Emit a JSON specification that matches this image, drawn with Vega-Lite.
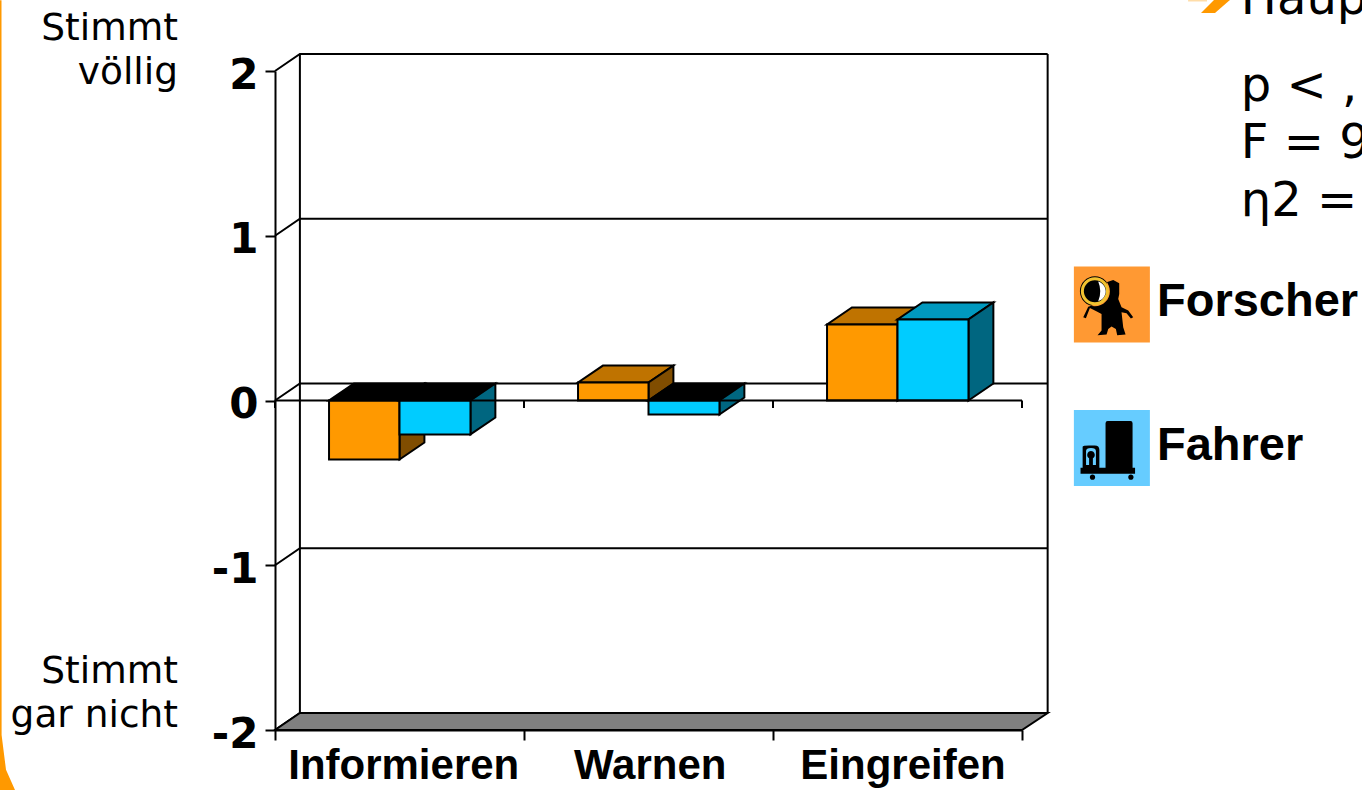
{
  "$schema": "https://vega.github.io/schema/vega-lite/v6.json",
  "width": 747,
  "height": 659,
  "autosize": "none",
  "padding": {"left": 275, "top": 71, "right": 340, "bottom": 60},
  "background": "white",
  "config": {"view": {"stroke": null}},
  "data": {"values": [{}]},
  "datasets": {
    "bars": [
      {"category": "Informieren", "group": "Forscher", "value": -0.358},
      {"category": "Informieren", "group": "Fahrer", "value": -0.206},
      {"category": "Warnen", "group": "Forscher", "value": 0.109},
      {"category": "Warnen", "group": "Fahrer", "value": -0.085},
      {"category": "Eingreifen", "group": "Forscher", "value": 0.462},
      {"category": "Eingreifen", "group": "Fahrer", "value": 0.492}
    ],
    "levels": [{"level": -2}, {"level": -1}, {"level": 0}, {"level": 1}, {"level": 2}],
    "floor": [
      {"px": 0, "lo": -2, "hi": -2},
      {"px": 0.1, "lo": -2, "hi": -1.897},
      {"px": 3, "lo": -2, "hi": -1.897},
      {"px": 3.103, "lo": -1.897, "hi": -1.897}
    ],
    "ticks": [{"tick": 0}, {"tick": 1}, {"tick": 2}, {"tick": 3}],
    "bullet": [
      {"px": 3.719, "lo": 2.352, "hi": 2.352},
      {"px": 3.771, "lo": 2.352, "hi": 2.431},
      {"px": 3.775, "lo": 2.352, "hi": 2.431},
      {"px": 3.835, "lo": 2.431, "hi": 2.431}
    ],
    "frameEdge": [
      {"px": -1.1044, "lo": -2.364, "hi": 2.43},
      {"px": -1.0984, "lo": -2.364, "hi": 2.43},
      {"px": -1.098, "lo": -2.364, "hi": -2.03},
      {"px": -1.0803, "lo": -2.364, "hi": -2.242},
      {"px": -1.0442, "lo": -2.364, "hi": -2.364}
    ]
  },
  "layer": [
    {
      "data": {"name": "levels"},
      "transform": [
        {"calculate": "[0, 1, 2]", "as": "corner"},
        {"flatten": ["corner"]},
        {"calculate": "datum.corner == 0 ? 0 : datum.corner == 1 ? 0.1 : 3.103", "as": "px"},
        {"calculate": "datum.corner == 0 ? datum.level : datum.level + 0.103", "as": "py"}
      ],
      "mark": {"type": "line", "color": "black", "strokeWidth": 2},
      "encoding": {
        "x": {
          "field": "px",
          "type": "quantitative",
          "scale": {"domain": [0, 3], "nice": false, "zero": false},
          "axis": {
            "title": null,
            "values": [0, 0.515, 1, 1.505, 2, 2.52, 3],
            "labelExpr": "datum.value == 0.515 ? 'Informieren' : datum.value == 1.505 ? 'Warnen' : datum.value == 2.52 ? 'Eingreifen' : ''",
            "tickOpacity": {"condition": {"test": "datum.value % 1 === 0", "value": 1}, "value": 0},
            "tickSize": 10,
            "tickWidth": 2,
            "tickColor": "black",
            "domainColor": "black",
            "domainWidth": 2,
            "grid": false,
            "labelFont": "Liberation Sans",
            "labelFontWeight": "bold",
            "labelFontSize": 42,
            "labelColor": "black",
            "labelPadding": 5,
            "labelAngle": 0,
            "labelLimit": 0,
            "labelOverlap": false,
            "labelBound": false,
            "labelFlush": false
          }
        },
        "y": {
          "field": "py",
          "type": "quantitative",
          "scale": {"domain": [-2, 2], "nice": false, "zero": false},
          "axis": {
            "title": null,
            "values": [-2, -1, 0, 1, 2],
            "labelExpr": "'' + datum.value",
            "tickSize": 10,
            "tickWidth": 2,
            "tickColor": "black",
            "domainColor": "black",
            "domainWidth": 2,
            "grid": false,
            "labelFont": "DejaVu Sans",
            "labelFontWeight": "bold",
            "labelFontSize": 42,
            "labelColor": "black",
            "labelPadding": 7,
            "labelOffset": 4,
            "labelOverlap": false,
            "labelBound": false,
            "labelFlush": false
          }
        },
        "detail": {"field": "level", "type": "nominal"}
      }
    },
    {
      "mark": {"type": "rule", "color": "black", "strokeWidth": 2},
      "encoding": {"x": {"datum": 0.1}, "y": {"datum": -1.897}, "y2": {"datum": 2.103}}
    },
    {
      "mark": {"type": "rule", "color": "black", "strokeWidth": 2},
      "encoding": {"x": {"datum": 3.103}, "y": {"datum": -1.897}, "y2": {"datum": 2.103}}
    },
    {
      "data": {"name": "floor"},
      "mark": {"type": "area", "fill": "#808080", "stroke": "black", "strokeWidth": 2},
      "encoding": {
        "x": {"field": "px", "type": "quantitative"},
        "y": {"field": "lo", "type": "quantitative"},
        "y2": {"field": "hi"}
      }
    },
    {
      "data": {"name": "bars"},
      "transform": [
        {"calculate": "indexof(['Informieren', 'Warnen', 'Eingreifen'], datum.category)", "as": "slot"},
        {"calculate": "datum.slot + (datum.group == 'Forscher' ? 0.217 : 0.5)", "as": "xL"},
        {"calculate": "datum.slot + (datum.group == 'Forscher' ? 0.5 : 0.785)", "as": "xR"},
        {"calculate": "max(datum.value, 0)", "as": "top"},
        {"calculate": "min(datum.value, 0)", "as": "bottom"},
        {"calculate": "['top', 'side', 'front']", "as": "face"},
        {"flatten": ["face"]},
        {"calculate": "[0, 1, 2, 3]", "as": "corner"},
        {"flatten": ["corner"]},
        {"calculate": "datum.face == 'top' ? [datum.xL, datum.xL + 0.1, datum.xR, datum.xR + 0.1][datum.corner] : datum.face == 'side' ? (datum.corner < 2 ? datum.xR : datum.xR + 0.1) : (datum.corner < 2 ? datum.xL : datum.xR)", "as": "px"},
        {"calculate": "datum.face == 'top' ? (datum.corner < 3 ? datum.top : datum.top + 0.103) : datum.face == 'side' ? (datum.corner < 2 ? datum.bottom : datum.bottom + 0.103) : datum.bottom", "as": "lo"},
        {"calculate": "datum.face == 'top' ? (datum.corner < 1 ? datum.top : datum.top + 0.103) : datum.face == 'side' ? (datum.corner < 2 ? datum.top : datum.top + 0.103) : datum.top", "as": "hi"},
        {"calculate": "datum.face == 'front' ? (datum.group == 'Forscher' ? '#FF9900' : '#00CCFF') : datum.face == 'side' ? (datum.group == 'Forscher' ? '#804D00' : '#006680') : datum.value < 0 ? '#000000' : (datum.group == 'Forscher' ? '#BF7300' : '#0099BF')", "as": "faceColor"},
        {"calculate": "datum.category + datum.group + datum.face", "as": "faceId"}
      ],
      "mark": {"type": "area", "stroke": "black", "strokeWidth": 2},
      "encoding": {
        "x": {"field": "px", "type": "quantitative"},
        "y": {"field": "lo", "type": "quantitative"},
        "y2": {"field": "hi"},
        "fill": {"field": "faceColor", "type": "nominal", "scale": null},
        "detail": {"field": "faceId", "type": "nominal"}
      }
    },
    {
      "mark": {"type": "rule", "color": "black", "strokeWidth": 2},
      "encoding": {"x": {"datum": 0}, "x2": {"datum": 3}, "y": {"datum": 0}}
    },
    {
      "data": {"name": "ticks"},
      "mark": {"type": "rule", "color": "black", "strokeWidth": 2},
      "encoding": {
        "x": {"field": "tick", "type": "quantitative"},
        "y": {"datum": 0},
        "y2": {"datum": -0.045}
      }
    },
    {
      "data": {"name": "frameEdge"},
      "mark": {"type": "area", "fill": "#FF9900"},
      "encoding": {
        "x": {"field": "px", "type": "quantitative"},
        "y": {"field": "lo", "type": "quantitative"},
        "y2": {"field": "hi"}
      }
    },
    {
      "mark": {"type": "rule", "color": "#FFDDA8", "strokeWidth": 2},
      "encoding": {"x": {"datum": 3.667}, "x2": {"datum": 3.743}, "y": {"datum": 2.428}}
    },
    {
      "data": {"name": "bullet"},
      "mark": {"type": "area", "fill": "#FF9900"},
      "encoding": {
        "x": {"field": "px", "type": "quantitative"},
        "y": {"field": "lo", "type": "quantitative"},
        "y2": {"field": "hi"}
      }
    },
    {
      "mark": {"type": "text", "text": ["Stimmt", "völlig"], "font": "DejaVu Sans", "fontSize": 37.5, "lineHeight": 44, "align": "right", "baseline": "alphabetic", "color": "black"},
      "encoding": {"x": {"datum": -0.3896}, "y": {"datum": 2.188}}
    },
    {
      "mark": {"type": "text", "text": ["Stimmt", "gar nicht"], "font": "DejaVu Sans", "fontSize": 37.5, "lineHeight": 44, "align": "right", "baseline": "alphabetic", "color": "black"},
      "encoding": {"x": {"datum": -0.3896}, "y": {"datum": -1.715}}
    },
    {
      "mark": {"type": "text", "text": "Haup", "font": "DejaVu Sans", "fontSize": 48, "align": "left", "baseline": "alphabetic", "color": "black"},
      "encoding": {"x": {"datum": 3.879}, "y": {"datum": 2.345}}
    },
    {
      "mark": {"type": "text", "text": "p < ,", "font": "DejaVu Sans", "fontSize": 48, "align": "left", "baseline": "alphabetic", "color": "black"},
      "encoding": {"x": {"datum": 3.879}, "y": {"datum": 1.818}}
    },
    {
      "mark": {"type": "text", "text": "F = 9", "font": "DejaVu Sans", "fontSize": 48, "align": "left", "baseline": "alphabetic", "color": "black"},
      "encoding": {"x": {"datum": 3.879}, "y": {"datum": 1.473}}
    },
    {
      "mark": {"type": "text", "text": "η2 =", "font": "DejaVu Sans", "fontSize": 48, "align": "left", "baseline": "alphabetic", "color": "black"},
      "encoding": {"x": {"datum": 3.879}, "y": {"datum": 1.121}}
    },
    {
      "mark": {"type": "point", "shape": "square", "filled": true, "size": 5776, "color": "#FF9933", "opacity": 1},
      "encoding": {"x": {"datum": 3.361}, "y": {"datum": 0.582}}
    },
    {
      "mark": {"type": "point", "shape": "M-.14 -.588L.035 -.649L.193 -.561L.193 -.281L.167 -.149L.254 .07L.43 .158L.561 .333L.5 .368L.386 .228L.254 .202L.298 .596L.36 .789L.14 .807L.105 .64L-.009 .579L-.096 .64L-.14 .789L-.377 .807L-.272 .684L-.272 .246L-.447 .158L-.579 .088L-.684 .36L-.754 .333L-.623 .053L-.404 -.018L-.272 -.105L-.14 -.281ZM-.052 -.351A.395 .395 0 1 0 -.842 -.351A.395 .395 0 1 0 -.052 -.351Z", "filled": true, "size": 5776, "color": "black", "opacity": 1},
      "encoding": {"x": {"datum": 3.361}, "y": {"datum": 0.582}}
    },
    {
      "mark": {"type": "point", "shape": "M-.117 -.351A.33 .33 0 1 0 -.777 -.351A.33 .33 0 1 0 -.117 -.351Z", "filled": false, "size": 5776, "stroke": "#F2C230", "strokeWidth": 3, "opacity": 1},
      "encoding": {"x": {"datum": 3.361}, "y": {"datum": 0.582}}
    },
    {
      "mark": {"type": "point", "shape": "M-.36 -.61A.27 .27 0 0 1 -.36 -.09Q-.25 -.35 -.36 -.61Z", "filled": true, "size": 5776, "color": "white", "opacity": 1},
      "encoding": {"x": {"datum": 3.361}, "y": {"datum": 0.582}}
    },
    {
      "mark": {"type": "text", "text": "Forscher", "font": "Liberation Sans", "fontWeight": "bold", "fontSize": 47, "align": "left", "baseline": "alphabetic", "color": "black"},
      "encoding": {"x": {"datum": 3.542}, "y": {"datum": 0.512}}
    },
    {
      "mark": {"type": "point", "shape": "square", "filled": true, "size": 5776, "color": "#66CCFF", "opacity": 1},
      "encoding": {"x": {"datum": 3.361}, "y": {"datum": -0.288}}
    },
    {
      "mark": {"type": "point", "shape": "M-.167 -.65Q-.167 -.706 -.11 -.706L.49 -.706Q.544 -.706 .544 -.65L.544 .52L.61 .52L.61 .68L-.825 .68L-.825 .52L-.77 .52L-.77 -.03Q-.77 -.066 -.6 -.066L-.45 -.066Q-.33 -.066 -.33 .05L-.33 .52L-.167 .52ZM-.44 .77A.07 .07 0 1 0 -.58 .77A.07 .07 0 1 0 -.44 .77ZM.57 .77A.07 .07 0 1 0 .43 .77A.07 .07 0 1 0 .57 .77Z", "filled": true, "size": 5776, "color": "black", "opacity": 1},
      "encoding": {"x": {"datum": 3.361}, "y": {"datum": -0.288}}
    },
    {
      "mark": {"type": "point", "shape": "M-.68 .45L-.68 .08Q-.68 0 -.55 0Q-.42 0 -.42 .08L-.42 .45L-.5 .45L-.5 .27A.1 .1 0 1 0 -.6 .27L-.6 .45Z", "filled": true, "size": 5776, "color": "#66CCFF", "opacity": 1},
      "encoding": {"x": {"datum": 3.361}, "y": {"datum": -0.288}}
    },
    {
      "mark": {"type": "text", "text": "Fahrer", "font": "Liberation Sans", "fontWeight": "bold", "fontSize": 47, "align": "left", "baseline": "alphabetic", "color": "black"},
      "encoding": {"x": {"datum": 3.542}, "y": {"datum": -0.364}}
    }
  ]
}
